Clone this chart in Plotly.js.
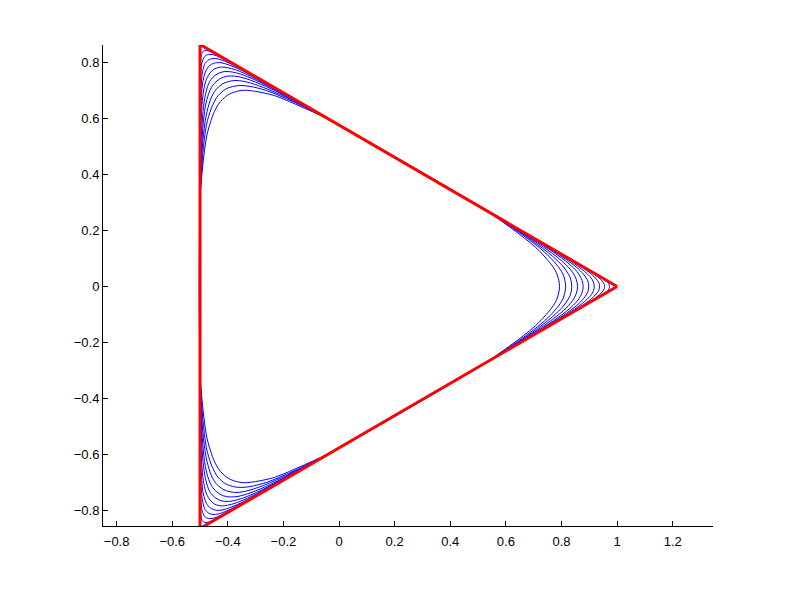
<!DOCTYPE html>
<html>
<head>
<meta charset="utf-8">
<script src="https://cdn.plot.ly/plotly-3.0.1.min.js"></script>
<style>
  html, body { margin: 0; padding: 0; background: #fff; }
  #plot { width: 789px; height: 592px; }
</style>
</head>
<body>
<div id="plot"></div>
<script>
// red triangle
var triX = [1, -0.5, -0.5, 1];
var triY = [0, 0.866, -0.866, 0];

// blue rounded curves (innermost first)
var c0x = [-0.5,-0.496,-0.491,-0.484,-0.475,-0.455,-0.44,-0.426, -0.397, -0.36,-0.336,-0.3,-0.232,-0.179,-0.124,-0.069,-0.024, 0.524,0.565,0.615,0.663,0.707,0.755,0.776,0.786, 0.793, 0.786,0.776,0.755,0.707,0.663,0.615,0.565,0.524, -0.024,-0.069,-0.124,-0.179,-0.232,-0.3,-0.336,-0.36, -0.397, -0.426,-0.44,-0.455,-0.475,-0.484,-0.491,-0.496,-0.5, -0.5];
var c0y = [0.316,0.366,0.427,0.486,0.543,0.609,0.642,0.662, 0.687, 0.7,0.702,0.698,0.683,0.662,0.638,0.613,0.591, 0.275,0.247,0.212,0.176,0.14,0.089,0.06,0.038, 0, -0.038,-0.06,-0.089,-0.14,-0.176,-0.212,-0.247,-0.275, -0.591,-0.613,-0.638,-0.662,-0.683,-0.698,-0.702,-0.7, -0.687, -0.662,-0.642,-0.609,-0.543,-0.486,-0.427,-0.366,-0.316, 0.316];

var c1x = [-0.5,-0.495,-0.49,-0.477,-0.46,-0.446,-0.434, -0.408, -0.375,-0.353,-0.321,-0.261,-0.165,-0.104,-0.024, 0.524,0.599,0.655,0.738,0.781,0.8,0.809, 0.815, 0.809,0.8,0.781,0.738,0.655,0.599,0.524, -0.024,-0.104,-0.165,-0.261,-0.321,-0.353,-0.375, -0.408, -0.434,-0.446,-0.46,-0.477,-0.49,-0.495,-0.5, -0.5];
var c1y = [0.316,0.406,0.473,0.577,0.636,0.666,0.684, 0.706, 0.717,0.719,0.716,0.701,0.661,0.632,0.591, 0.275,0.226,0.188,0.124,0.08,0.054,0.034, 0, -0.034,-0.054,-0.08,-0.124,-0.188,-0.226,-0.275, -0.591,-0.632,-0.661,-0.701,-0.716,-0.719,-0.717, -0.706, -0.684,-0.666,-0.636,-0.577,-0.473,-0.406,-0.316, 0.316];

var c2x = [-0.5,-0.495,-0.49,-0.478,-0.464,-0.453,-0.442, -0.419, -0.39,-0.371,-0.343,-0.291,-0.206,-0.13,-0.024, 0.524,0.625,0.695,0.768,0.807,0.823,0.832, 0.837, 0.832,0.823,0.807,0.768,0.695,0.625,0.524, -0.024,-0.13,-0.206,-0.291,-0.343,-0.371,-0.39, -0.419, -0.442,-0.453,-0.464,-0.478,-0.49,-0.495,-0.5, -0.5];
var c2y = [0.316,0.436,0.52,0.611,0.664,0.689,0.705, 0.725, 0.735,0.737,0.734,0.719,0.684,0.647,0.591, 0.275,0.211,0.164,0.108,0.07,0.047,0.03, 0, -0.03,-0.047,-0.07,-0.108,-0.164,-0.211,-0.275, -0.591,-0.647,-0.684,-0.719,-0.734,-0.737,-0.735, -0.725, -0.705,-0.689,-0.664,-0.611,-0.52,-0.436,-0.316, 0.316];

var c3x = [-0.5,-0.496,-0.49,-0.481,-0.469,-0.459,-0.449, -0.429, -0.404,-0.387,-0.363,-0.318,-0.244,-0.156,-0.024, 0.524,0.651,0.734,0.798,0.832,0.846,0.853, 0.858, 0.853,0.846,0.832,0.798,0.734,0.651,0.524, -0.024,-0.156,-0.244,-0.318,-0.363,-0.387,-0.404, -0.429, -0.449,-0.459,-0.469,-0.481,-0.49,-0.496,-0.5, -0.5];
var c3y = [0.316,0.466,0.565,0.644,0.69,0.712,0.726, 0.743, 0.752,0.753,0.751,0.738,0.707,0.662,0.591, 0.275,0.196,0.142,0.094,0.061,0.041,0.026, 0, -0.026,-0.041,-0.061,-0.094,-0.142,-0.196,-0.275, -0.591,-0.662,-0.707,-0.738,-0.751,-0.753,-0.752, -0.743, -0.726,-0.712,-0.69,-0.644,-0.565,-0.466,-0.316, 0.316];

var c4x = [-0.5,-0.496,-0.491,-0.483,-0.473,-0.465,-0.456, -0.439, -0.418,-0.403,-0.382,-0.343,-0.28,-0.19,-0.024, 0.524,0.686,0.772,0.827,0.856,0.868,0.874, 0.878, 0.874,0.868,0.856,0.827,0.772,0.686,0.524, -0.024,-0.19,-0.28,-0.343,-0.382,-0.403,-0.418, -0.439, -0.456,-0.465,-0.473,-0.483,-0.491,-0.496,-0.5, -0.5];
var c4y = [0.316,0.506,0.607,0.675,0.715,0.734,0.746, 0.76, 0.768,0.769,0.767,0.756,0.729,0.683,0.591, 0.275,0.177,0.122,0.081,0.053,0.035,0.022, 0, -0.022,-0.035,-0.053,-0.081,-0.122,-0.177,-0.275, -0.591,-0.683,-0.729,-0.756,-0.767,-0.769,-0.768, -0.76, -0.746,-0.734,-0.715,-0.675,-0.607,-0.506,-0.316, 0.316];

var c5x = [-0.5,-0.497,-0.493,-0.486,-0.478,-0.47,-0.463, -0.449, -0.431,-0.419,-0.402,-0.369,-0.316,-0.225,-0.024, 0.524,0.721,0.809,0.855,0.879,0.889,0.895, 0.898, 0.895,0.889,0.879,0.855,0.809,0.721,0.524, -0.024,-0.225,-0.316,-0.369,-0.402,-0.419,-0.431, -0.449, -0.463,-0.47,-0.478,-0.486,-0.493,-0.497,-0.5, -0.5];
var c5y = [0.316,0.546,0.65,0.707,0.739,0.755,0.765, 0.778, 0.784,0.785,0.783,0.774,0.751,0.703,0.591, 0.275,0.157,0.102,0.068,0.044,0.03,0.019, 0, -0.019,-0.03,-0.044,-0.068,-0.102,-0.157,-0.275, -0.591,-0.703,-0.751,-0.774,-0.783,-0.785,-0.784, -0.778, -0.765,-0.755,-0.739,-0.707,-0.65,-0.546,-0.316, 0.316];

var c6x = [-0.5,-0.498,-0.494,-0.489,-0.482,-0.476,-0.471, -0.459, -0.445,-0.435,-0.421,-0.395,-0.352,-0.262,-0.024, 0.524,0.76,0.846,0.883,0.903,0.911,0.915, 0.918, 0.915,0.911,0.903,0.883,0.846,0.76,0.524, -0.024,-0.262,-0.352,-0.395,-0.421,-0.435,-0.445, -0.459, -0.471,-0.476,-0.482,-0.489,-0.494,-0.498,-0.5, -0.5];
var c6y = [0.316,0.59,0.692,0.738,0.764,0.777,0.785, 0.795, 0.8,0.801,0.8,0.792,0.774,0.726,0.591, 0.275,0.136,0.082,0.054,0.035,0.024,0.015, 0, -0.015,-0.024,-0.035,-0.054,-0.082,-0.136,-0.275, -0.591,-0.726,-0.774,-0.792,-0.8,-0.801,-0.8, -0.795, -0.785,-0.777,-0.764,-0.738,-0.692,-0.59,-0.316, 0.316];

var c7x = [-0.5,-0.498,-0.495,-0.491,-0.486,-0.482,-0.477, -0.469, -0.458,-0.45,-0.439,-0.419,-0.387,-0.317,-0.024, 0.524,0.815,0.882,0.91,0.925,0.932,0.935, 0.937, 0.935,0.932,0.925,0.91,0.882,0.815,0.524, -0.024,-0.317,-0.387,-0.419,-0.439,-0.45,-0.458, -0.469, -0.477,-0.482,-0.486,-0.491,-0.495,-0.498,-0.5, -0.5];
var c7y = [0.316,0.654,0.732,0.768,0.788,0.798,0.804, 0.811, 0.815,0.816,0.815,0.809,0.795,0.758,0.591, 0.275,0.105,0.063,0.042,0.027,0.018,0.012, 0, -0.012,-0.018,-0.027,-0.042,-0.063,-0.105,-0.275, -0.591,-0.758,-0.795,-0.809,-0.815,-0.816,-0.815, -0.811, -0.804,-0.798,-0.788,-0.768,-0.732,-0.654,-0.316, 0.316];

var c8x = [-0.5,-0.499,-0.497,-0.494,-0.49,-0.487,-0.484, -0.478, -0.47,-0.464,-0.457,-0.442,-0.419,-0.369,-0.024, 0.524,0.868,0.916,0.936,0.947,0.951,0.954, 0.955, 0.954,0.951,0.947,0.936,0.916,0.868,0.524, -0.024,-0.369,-0.419,-0.442,-0.457,-0.464,-0.47, -0.478, -0.484,-0.487,-0.49,-0.494,-0.497,-0.499,-0.5, -0.5];
var c8y = [0.316,0.714,0.771,0.796,0.81,0.817,0.822, 0.827, 0.83,0.83,0.83,0.826,0.815,0.789,0.591, 0.275,0.075,0.045,0.03,0.019,0.013,0.008, 0, -0.008,-0.013,-0.019,-0.03,-0.045,-0.075,-0.275, -0.591,-0.789,-0.815,-0.826,-0.83,-0.83,-0.83, -0.827, -0.822,-0.817,-0.81,-0.796,-0.771,-0.714,-0.316, 0.316];

var c9x = [-0.5,-0.499,-0.498,-0.496,-0.494,-0.492,-0.49, -0.487, -0.482,-0.479,-0.474,-0.465,-0.451,-0.422,-0.024, 0.524,0.921,0.949,0.962,0.968,0.971,0.972, 0.973, 0.972,0.971,0.968,0.962,0.949,0.921,0.524, -0.024,-0.422,-0.451,-0.465,-0.474,-0.479,-0.482, -0.487, -0.49,-0.492,-0.494,-0.496,-0.498,-0.499,-0.5, -0.5];
var c9y = [0.316,0.775,0.809,0.824,0.833,0.837,0.839, 0.843, 0.844,0.845,0.844,0.842,0.836,0.82,0.591, 0.275,0.045,0.027,0.018,0.012,0.008,0.005, 0, -0.005,-0.008,-0.012,-0.018,-0.027,-0.045,-0.275, -0.591,-0.82,-0.836,-0.842,-0.844,-0.845,-0.844, -0.843, -0.839,-0.837,-0.833,-0.824,-0.809,-0.775,-0.316, 0.316];

var curvesX = [c0x, c1x, c2x, c3x, c4x, c5x, c6x, c7x, c8x, c9x];
var curvesY = [c0y, c1y, c2y, c3y, c4y, c5y, c6y, c7y, c8y, c9y];

var data = [];
for (var i = 0; i < curvesX.length; i++) {
    data.push({
        x: curvesX[i],
        y: curvesY[i],
        mode: "lines",
        line: { color: "rgb(0,0,255)", width: 1, shape: "spline", smoothing: 1 },
        hoverinfo: "skip"
    });
}
data.push({
    x: triX,
    y: triY,
    mode: "lines",
    line: { color: "rgb(255,0,0)", width: 3 },
    hoverinfo: "skip"
});

var axisFont = { family: "Liberation Sans, Arial, Helvetica, sans-serif", size: 13, color: "#000" };

var layout = {
    width: 789,
    height: 592,
    margin: { l: 103, r: 76, t: 45, b: 66 },
    paper_bgcolor: "#fff",
    plot_bgcolor: "#fff",
    showlegend: false,
    font: axisFont,
    xaxis: {
        range: [-0.849, 1.345],
        tickvals: [-0.8, -0.6, -0.4, -0.2, 0, 0.2, 0.4, 0.6, 0.8, 1, 1.2],
        ticks: "inside",
        ticklen: 5,
        tickcolor: "#000",
        ticklabelstandoff: 3,
        showline: true,
        linecolor: "#000",
        linewidth: 1,
        showgrid: false,
        zeroline: false,
        tickfont: axisFont
    },
    yaxis: {
        range: [-0.857, 0.864],
        tickvals: [-0.8, -0.6, -0.4, -0.2, 0, 0.2, 0.4, 0.6, 0.8],
        ticks: "inside",
        ticklen: 5,
        tickcolor: "#000",
        showline: true,
        linecolor: "#000",
        linewidth: 1,
        showgrid: false,
        zeroline: false,
        tickfont: axisFont
    }
};

Plotly.newPlot("plot", data, layout, { displayModeBar: false, staticPlot: true });
</script>
</body>
</html>
